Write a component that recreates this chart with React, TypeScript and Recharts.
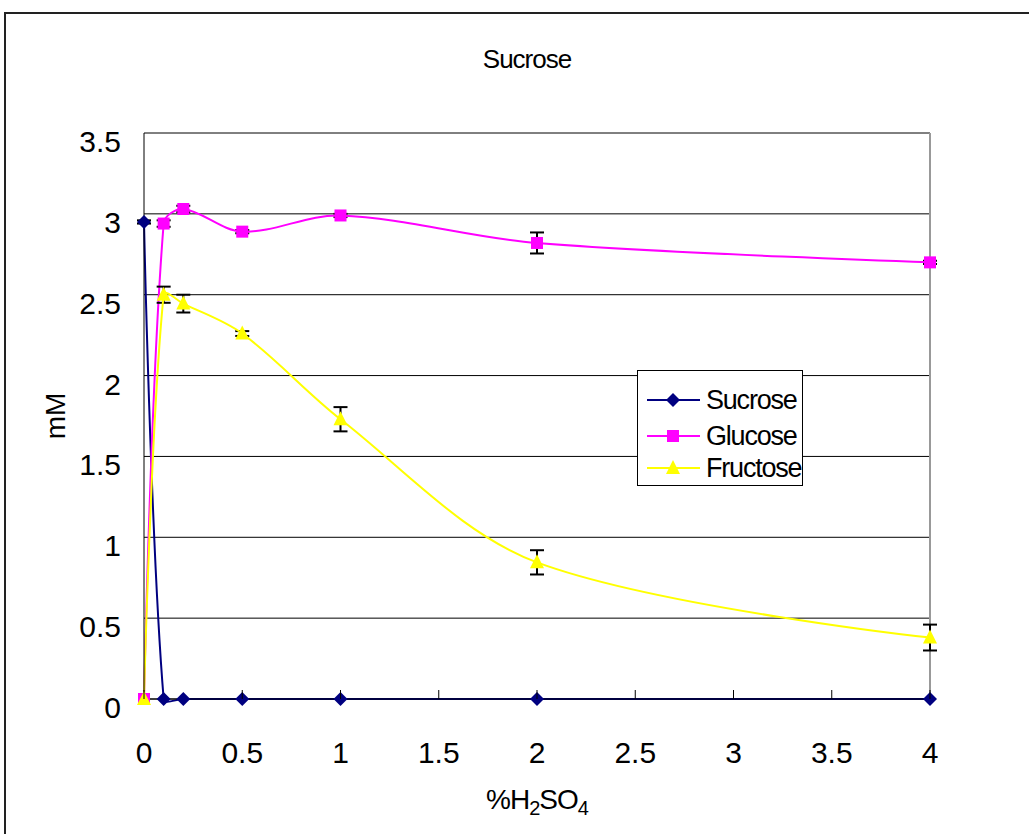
import {
  CartesianGrid,
  ErrorBar,
  Legend,
  Line,
  LineChart,
  ReferenceLine,
  XAxis,
  YAxis,
} from "recharts";

const acid = [0, 0.1, 0.2, 0.5, 1, 2, 4];
const sucrose = [2.95, 0, 0, 0, 0, 0, 0];
const sucroseErr = [0.01, 0, 0, 0, 0, 0, 0];
const glucose = [0, 2.94, 3.03, 2.89, 2.99, 2.82, 2.7];
const glucoseErr = [0, 0.02, 0.02, 0.01, 0.01, 0.065, 0.01];
const fructose = [0, 2.5, 2.445, 2.26, 1.73, 0.845, 0.38];
const fructoseErr = [0, 0.05, 0.055, 0.015, 0.075, 0.075, 0.08];
const xTicks = [0, 0.5, 1, 1.5, 2, 2.5, 3, 3.5, 4];
const yTicks = [0, 0.5, 1, 1.5, 2, 2.5, 3, 3.5];

const FONT = '"Liberation Sans", Arial, sans-serif';
const NAVY = "#000080";
const MAGENTA = "#ff00ff";
const YELLOW = "#ffff00";

const data = acid.map((x, i) => ({
  x,
  Sucrose: sucrose[i],
  sErr: sucroseErr[i],
  Glucose: glucose[i],
  gErr: glucoseErr[i],
  Fructose: fructose[i],
  fErr: fructoseErr[i],
}));

// excel-like smoothing: tangent P[i+1]-P[i-1], control length scaled by chord lengths
function smooth(context: any) {
  let pts: number[][] = [];
  return {
    areaStart() {},
    areaEnd() {},
    lineStart() {
      pts = [];
    },
    point(x: number, y: number) {
      pts.push([+x, +y]);
    },
    lineEnd() {
      if (!pts.length) return;
      const n = pts.length;
      const dist = (a: number[], b: number[]) => Math.hypot(b[0] - a[0], b[1] - a[1]);
      const cOut: number[][] = pts.map((p) => [p[0], p[1]]);
      const cIn: number[][] = pts.map((p) => [p[0], p[1]]);
      for (let i = 1; i < n - 1; i++) {
        const p0 = pts[i - 1];
        const p1 = pts[i];
        const p2 = pts[i + 1];
        const d0 = dist(p0, p1);
        const d1 = dist(p1, p2);
        const s = d0 + d1 || 1;
        const tx = p2[0] - p0[0];
        const ty = p2[1] - p0[1];
        cOut[i] = [p1[0] + (tx * d1) / s / 3, p1[1] + (ty * d1) / s / 3];
        cIn[i] = [p1[0] - (tx * d0) / s / 3, p1[1] - (ty * d0) / s / 3];
      }
      context.moveTo(pts[0][0], pts[0][1]);
      for (let i = 0; i < n - 1; i++) {
        const a = cOut[i];
        const b = cIn[i + 1];
        context.bezierCurveTo(a[0], a[1], b[0], b[1], pts[i + 1][0], pts[i + 1][1]);
      }
    },
  };
}

const Diamond = ({ cx, cy, index }: any) => (
  <path
    key={`s-${index}`}
    d={`M${cx},${cy - 7}L${cx + 7},${cy}L${cx},${cy + 7}L${cx - 7},${cy}Z`}
    fill={NAVY}
  />
);

const Square = ({ cx, cy, index }: any) => (
  <rect key={`g-${index}`} x={cx - 6} y={cy - 6} width={12} height={12} fill={MAGENTA} />
);

const Triangle = ({ cx, cy, index }: any) => (
  <path
    key={`f-${index}`}
    d={`M${cx},${cy - 8}L${cx + 7},${cy + 6}L${cx - 7},${cy + 6}Z`}
    fill={YELLOW}
  />
);

const XTick = ({ x, y, payload }: any) => (
  <g>
    <line x1={x} x2={x} y1={y} y2={y - 9} stroke="#000" />
    <text x={x} y={y + 64} textAnchor="middle" fontSize={30} fontFamily={FONT} fill="#000">
      {payload.value}
    </text>
  </g>
);

const YTick = ({ x, y, payload }: any) => (
  <text x={x - 23} y={y + 19} textAnchor="end" fontSize={30} fontFamily={FONT} fill="#000">
    {payload.value}
  </text>
);

const XLabel = ({ viewBox }: any) => (
  <text
    x={viewBox.x + viewBox.width / 2}
    y={viewBox.y + 110}
    textAnchor="middle"
    fontSize={28}
    fontFamily={FONT}
    fill="#000"
    letterSpacing={-1}
  >
    %H
    <tspan fontSize={20} dy={6}>2</tspan>
    <tspan dy={-6}>SO</tspan>
    <tspan fontSize={20} dy={6}>4</tspan>
  </text>
);

const YLabel = ({ viewBox }: any) => {
  const cx = viewBox.x + 55;
  const cy = viewBox.y + viewBox.height / 2;
  return (
    <text
      x={cx}
      y={cy}
      transform={`rotate(-90 ${cx} ${cy})`}
      textAnchor="middle"
      dominantBaseline="central"
      fontSize={28}
      fontFamily={FONT}
      fill="#000"
    >
      mM
    </text>
  );
};

const legendItems = [
  { name: "Sucrose", color: NAVY, shape: "diamond" },
  { name: "Glucose", color: MAGENTA, shape: "square" },
  { name: "Fructose", color: YELLOW, shape: "triangle" },
];

const renderLegend = () => (
  <div
    style={{
      width: 166,
      height: 116,
      boxSizing: "border-box",
      border: "1px solid #000",
      background: "#fff",
      position: "relative",
      fontFamily: FONT,
      fontSize: 27,
      letterSpacing: -1.2,
    }}
  >
    {legendItems.map((it, i) => (
      <div
        key={it.name}
        style={{ position: "absolute", left: 0, top: [29, 65, 97][i] - 18, height: 36, display: "flex", alignItems: "center" }}
      >
        <svg width={68} height={36} style={{ display: "block" }}>
          <line x1={9} x2={62} y1={18} y2={18} stroke={it.color} strokeWidth={2} />
          {it.shape === "diamond" && <path d="M35,11L42,18L35,25L28,18Z" fill={it.color} />}
          {it.shape === "square" && <rect x={29} y={12} width={12} height={12} fill={it.color} />}
          {it.shape === "triangle" && <path d="M35,10L42,24L28,24Z" fill={it.color} />}
        </svg>
        <span style={{ whiteSpace: "nowrap" }}>{it.name}</span>
      </div>
    ))}
  </div>
);

export default function App() {
  return (
    <div
      style={{
        position: "absolute",
        left: 0,
        top: 0,
        width: 1029,
        height: 834,
        overflow: "hidden",
        background: "#fff",
      }}
    >
      <div
        style={{
          position: "absolute",
          left: 4,
          top: 12,
          width: 1100,
          height: 900,
          border: "2px solid #222",
        }}
      />
      <div style={{ position: "absolute", left: 0, top: 0 }}>
        <LineChart
          width={1029}
          height={834}
          data={data}
          margin={{ top: 133, right: 99, left: 0, bottom: 0 }}
        >
          <text x={527} y={68} textAnchor="middle" fontSize={26} letterSpacing={-1} fontFamily={FONT} fill="#000">
            Sucrose
          </text>
          <CartesianGrid vertical={false} stroke="#000" strokeDasharray="" />
          <XAxis
            dataKey="x"
            type="number"
            domain={[0, 4]}
            ticks={xTicks}
            tickSize={0}
            tickMargin={0}
            tickLine={false}
            tick={<XTick />}
            axisLine={{ stroke: "#000" }}
            height={135}
            label={{ content: <XLabel /> }}
          />
          <YAxis
            type="number"
            domain={[0, 3.5]}
            ticks={yTicks}
            tickSize={0}
            tickMargin={0}
            tickLine={false}
            tick={<YTick />}
            axisLine={{ stroke: "#000" }}
            width={144}
            label={{ content: <YLabel /> }}
          />
          <ReferenceLine x={4} stroke="#999" strokeWidth={2} />
          <Legend
            layout="vertical"
            align="center"
            verticalAlign="middle"
            content={renderLegend}
            wrapperStyle={{ left: 637, top: 370, width: 166, height: 116 }}
          />
          <Line
            dataKey="Sucrose"
            type={smooth as any}
            stroke={NAVY}
            strokeWidth={2}
            dot={Diamond}
            activeDot={false}
            isAnimationActive={false}
          >
            <ErrorBar dataKey="sErr" width={7} stroke="#000" strokeWidth={2} direction="y" isAnimationActive={false} />
          </Line>
          <Line
            dataKey="Glucose"
            type={smooth as any}
            stroke={MAGENTA}
            strokeWidth={2}
            dot={Square}
            activeDot={false}
            isAnimationActive={false}
          >
            <ErrorBar dataKey="gErr" width={7} stroke="#000" strokeWidth={2} direction="y" isAnimationActive={false} />
          </Line>
          <Line
            dataKey="Fructose"
            type={smooth as any}
            stroke={YELLOW}
            strokeWidth={2}
            dot={Triangle}
            activeDot={false}
            isAnimationActive={false}
          >
            <ErrorBar dataKey="fErr" width={7} stroke="#000" strokeWidth={2} direction="y" isAnimationActive={false} />
          </Line>
        </LineChart>
      </div>
    </div>
  );
}
